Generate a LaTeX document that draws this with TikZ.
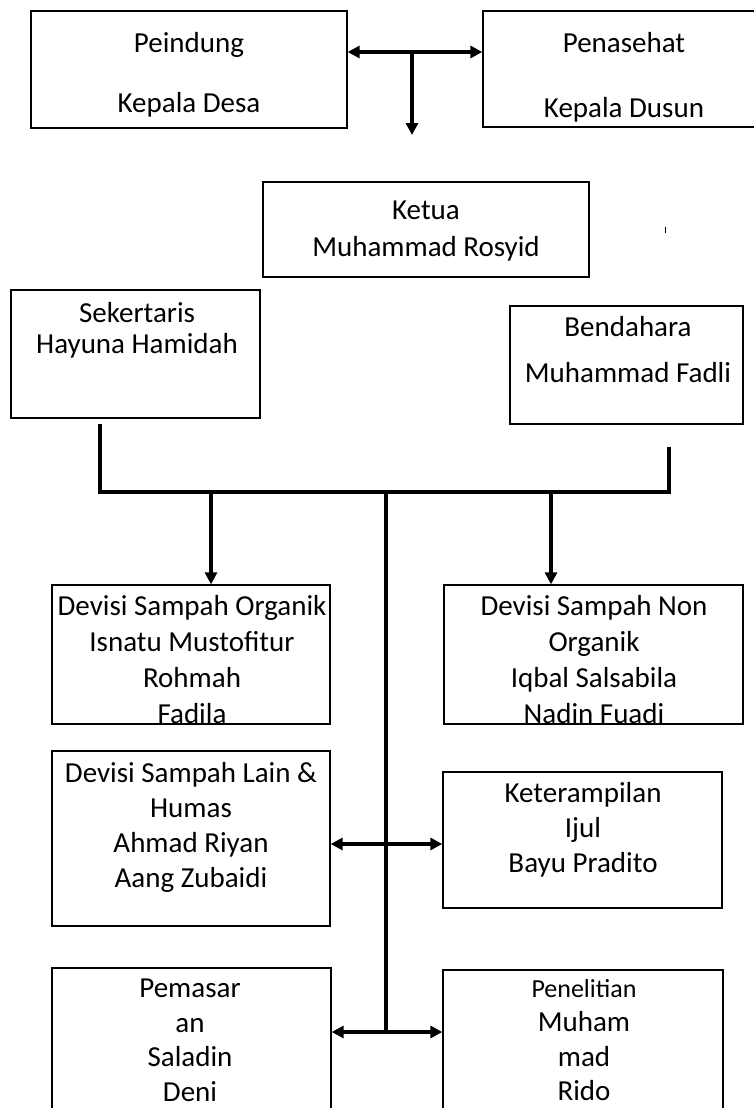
\documentclass[tikz,border=0pt]{standalone}
\usepackage{fontspec}
\setmainfont{Carlito}
\usetikzlibrary{arrows.meta}
\newcommand{\huruf}{\fontsize{29pt}{36pt}\selectfont}

\begin{document}
\begin{tikzpicture}[x=1pt,y=-1pt,>={Triangle[length=12pt,width=12pt]},
  kotak/.style={draw,line width=1.3pt,inner sep=0pt},
  teks/.style={align=center,inner sep=0pt,anchor=north,font=\huruf},
  garis/.style={line width=4pt},
  panah/.style={->,line width=3.2pt}]
\useasboundingbox (0,0) rectangle (753,1108);

% kotak-kotak
\node[kotak,minimum width=316pt,minimum height=117pt] (peindung) at (189,69.5) {};
\node[kotak,minimum width=277pt,minimum height=116pt] (penasehat) at (621.5,69) {};
\node[kotak,minimum width=326pt,minimum height=95pt] (ketua) at (426,229.5) {};
\node[kotak,minimum width=249pt,minimum height=128pt] (sekertaris) at (135.5,354) {};
\node[kotak,minimum width=233pt,minimum height=118pt] (bendahara) at (626.5,365) {};
\node[kotak,minimum width=278pt,minimum height=139pt] (organik) at (191,654.5) {};
\node[kotak,minimum width=299pt,minimum height=139pt] (nonorganik) at (593.5,654.5) {};
\node[kotak,minimum width=278pt,minimum height=175pt] (lain) at (191,838.5) {};
\node[kotak,minimum width=279pt,minimum height=136pt] (terampil) at (582.5,840) {};
\node[kotak,minimum width=279pt,minimum height=162pt] (pemasaran) at (191.5,1049) {};
\node[kotak,minimum width=280pt,minimum height=160pt] (penelitian) at (583,1050) {};

% isi
\node[teks] (peindung-t) at (189,32) {Peindung\\[24pt]Kepala Desa};
\node[teks] (penasehat-t) at (624,32) {Penasehat\\[29pt]Kepala Dusun};
\node[teks] (ketua-t) at (426,201) {Ketua\\[1pt]Muhammad Rosyid};
\node[teks] (sekertaris-t) at (137,302) {Sekertaris\\[-5pt]Hayuna Hamidah};
\node[teks] (bendahara-t) at (628,316) {Bendahara\\[10pt]Muhammad Fadli};
\node[teks] (organik-t) at (192,595) {Devisi Sampah Organik\\Isnatu Mustofitur\\Rohmah\\Fadila};
\node[teks] (nonorganik-t) at (594,595) {Devisi Sampah Non\\Organik\\Iqbal Salsabila\\Nadin Fuadi};
\node[teks] (lain-t) at (191,762) {Devisi Sampah Lain \&\\[-1pt]Humas\\[-1pt]Ahmad Riyan\\[-1pt]Aang Zubaidi};
\node[teks] (terampil-t) at (583,782) {Keterampilan\\[-1pt]Ijul\\[-1pt]Bayu Pradito};
\node[teks] (pemasaran-t) at (190,979) {Pemasar\\[-1.5pt]an\\[-1.5pt]Saladin\\[-1.5pt]Deni};
\node[teks] (penelitian-t) at (584,979) {{\fontsize{26pt}{36pt}\selectfont Penelitian}\\[-1.5pt]Muham\\[-1.5pt]mad\\[-1.5pt]Rido};

\draw[line width=0.8pt] (665,227) -- (665,233);

% garis
\coordinate (atas) at (412,52);
\coordinate (atas-b) at (412,135);
\draw[panah,<->] (atas -| peindung.east) -- (atas -| penasehat.west);
\draw[panah] (atas) -- (atas-b);

\coordinate (sek-b) at (100,424);
\coordinate (kiri) at (100,492);
\coordinate (kanan) at (669,492);
\coordinate (bend-b) at (669,447);
\draw[garis] (sek-b) -- (kiri) -- (kanan) -- (bend-b);
\coordinate (cab-kiri) at (211,492);
\coordinate (cab-kanan) at (551,492);
\draw[panah] (cab-kiri) -- (cab-kiri |- organik.north);
\draw[panah] (cab-kanan) -- (cab-kanan |- nonorganik.north);

\coordinate (pusat) at (386,492);
\coordinate (pusat-b) at (386,1034);
\draw[garis] (pusat) -- (pusat-b);
\coordinate (tengah1) at (386,844);
\coordinate (tengah2) at (386,1032);
\draw[panah,<->] (tengah1 -| lain.east) -- (tengah1 -| terampil.west);
\draw[panah,<->] (tengah2 -| pemasaran.east) -- (tengah2 -| penelitian.west);
\end{tikzpicture}
\end{document}
